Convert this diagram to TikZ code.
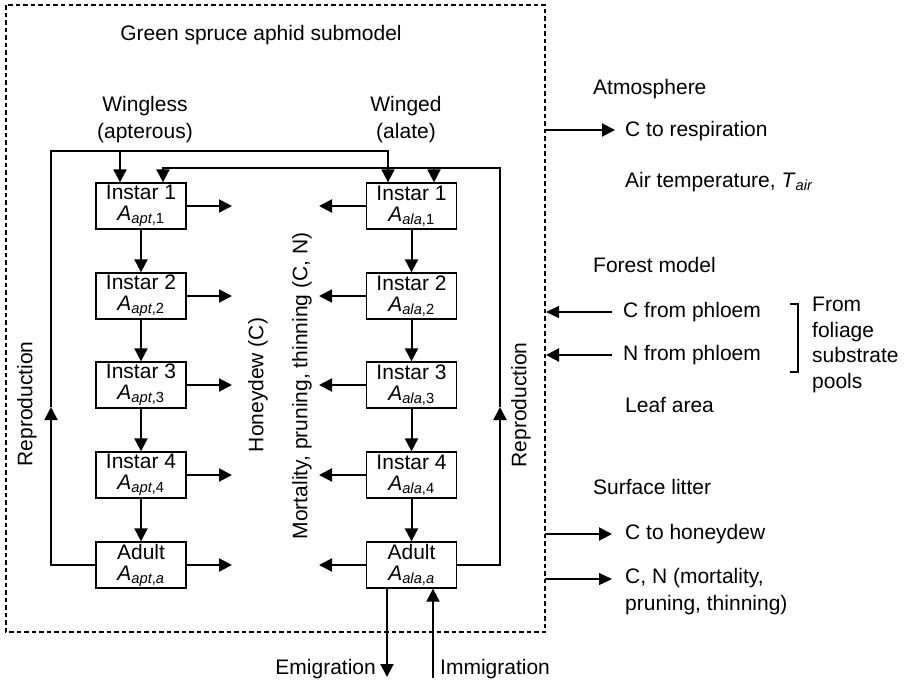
\documentclass[tikz,border=0pt]{standalone}
\usepackage{fontspec}
\setmainfont{Liberation Sans}
\usetikzlibrary{arrows.meta}
% italic stage variable with subscript, e.g. A_{apt,1}
\newcommand\Asub[2]{\textit{A}\textsubscript{\textit{#1},#2}}
\begin{document}
\begin{tikzpicture}[x=1pt,y=-1pt,
  every node/.style={font=\fontsize{21}{27}\selectfont},
  stage/.style={draw, line width=1.3pt, minimum width=90pt, minimum height=46pt,
    inner sep=0pt, align=center, font=\fontsize{21}{21}\selectfont},
  flow/.style={line width=2pt, -{Triangle[length=13pt,width=13pt]}},
  thinflow/.style={line width=1.3pt, -{Triangle[length=13pt,width=12pt]}},
  lbl/.style={anchor=west, inner sep=0pt, align=left},
  vlbl/.style={rotate=90, inner sep=0pt},
]
\useasboundingbox (0,0) rectangle (912,686);

% submodel boundary
\draw[line width=1.1pt, dash pattern=on 4.5pt off 3pt] (6,5) rectangle (545,632);

\node (title) at (261,35) {Green spruce aphid submodel};
\node[align=center] (wingless) at (145,120) {Wingless\\(apterous)};
\node[align=center] (winged) at (406,120) {Winged\\(alate)};

% stage boxes with honeydew and mortality outflows
\foreach \n/\y/\t/\s in {1/206/Instar 1/1, 2/296/Instar 2/2, 3/385/Instar 3/3,
                         4/475/Instar 4/4, a/565/Adult/\textit{a}} {
  \node[stage] (p\n) at (141,\y) {\t\\\Asub{apt}{\s}};
  \node[stage] (w\n) at (411.5,\y) {\t\\\Asub{ala}{\s}};
  \coordinate (hd\n) at (232,\y);
  \coordinate (mo\n) at (319,\y);
  \draw[flow] (p\n.east) -- (hd\n);
  \draw[flow] (w\n.west) -- (mo\n);
}

% development chains
\draw[flow] (p1) -- (p2);
\draw[flow] (p2) -- (p3);
\draw[flow] (p3) -- (p4);
\draw[flow] (p4) -- (pa);
\draw[flow] (w1) -- (w2);
\draw[flow] (w2) -- (w3);
\draw[flow] (w3) -- (w4);
\draw[flow] (w4) -- (wa);

% reproduction by wingless adults
\coordinate (lb) at (51,565);
\coordinate (lm) at (51,407);
\coordinate (lt) at (51,151);
\coordinate (ltr) at (388,151);
\coordinate (lbr) at (120,151);
\draw[flow] (pa.west) -- (lb) -- (lm);
\draw[flow] (lm) -- (lt) -- (ltr) -- (ltr |- w1.north);
\draw[flow] (lbr) -- (lbr |- p1.north);

% reproduction by winged adults
\coordinate (rb) at (500,565);
\coordinate (rm) at (500,407);
\coordinate (rt) at (500,168);
\coordinate (rtl) at (163,168);
\coordinate (rbr) at (434,168);
\draw[flow] (wa.east) -- (rb) -- (rm);
\draw[flow] (rm) -- (rt) -- (rtl) -- (rtl |- p1.north);
\draw[flow] (rbr) -- (rbr |- w1.north);

% migration
\coordinate (em) at (387,677);
\coordinate (im) at (433,678);
\draw[flow] (wa.south -| em) -- (em);
\draw[flow] (im) -- (im |- wa.south);
\node[anchor=east, inner sep=0pt] (emig) at (376,669) {Emigration};
\node[anchor=west, inner sep=0pt] (immig) at (440,669) {Immigration};

% rotated labels
\node[vlbl] (repl) at (27,404) {Reproduction};
\node[vlbl] (honey) at (258,385) {Honeydew (C)};
\node[vlbl] (mort) at (302,386) {Mortality, pruning, thinning (C, N)};
\node[vlbl] (repr) at (521,405) {Reproduction};

% links to other submodels
\coordinate (b1) at (546,130);  \coordinate (e1) at (615,130);
\coordinate (b2) at (546,312);  \coordinate (e2) at (612,312);
\coordinate (b3) at (546,355);  \coordinate (e3) at (612,355);
\coordinate (b4) at (545,534);  \coordinate (e4) at (612,534);
\coordinate (b5) at (545,579);  \coordinate (e5) at (612,579);
\draw[flow] (b1) -- (e1);
\draw[thinflow] (e2) -- (b2);
\draw[flow] (e3) -- (b3);
\draw[flow] (b4) -- (e4);
\draw[thinflow] (b5) -- (e5);

\node[lbl] (atm) at (593,89) {Atmosphere};
\node[lbl] (resp) at (625,131) {C to respiration};
\node[lbl] (tair) at (625,182) {Air temperature, \textit{T}\textsubscript{\textit{air}}};
\node[lbl] (forest) at (593,265) {Forest model};
\node[lbl] (cphl) at (623,312) {C from phloem};
\node[lbl] (nphl) at (623,355) {N from phloem};
\node[lbl] (leaf) at (625,405) {Leaf area};
\node[lbl] (litter) at (593,487) {Surface litter};
\node[lbl] (hdew) at (625,534) {C to honeydew};
\node[lbl, font=\fontsize{21}{27}\selectfont] (cn) at (625,592) {C, N (mortality,\\pruning, thinning)};
\node[lbl, font=\fontsize{21}{25.5}\selectfont] (pools) at (812,345) {From\\foliage\\substrate\\pools};

% bracket grouping the phloem inputs
\draw[line width=1.3pt] (790,304) -- (798,304) -- (798,372) -- (790,372);
\end{tikzpicture}
\end{document}
